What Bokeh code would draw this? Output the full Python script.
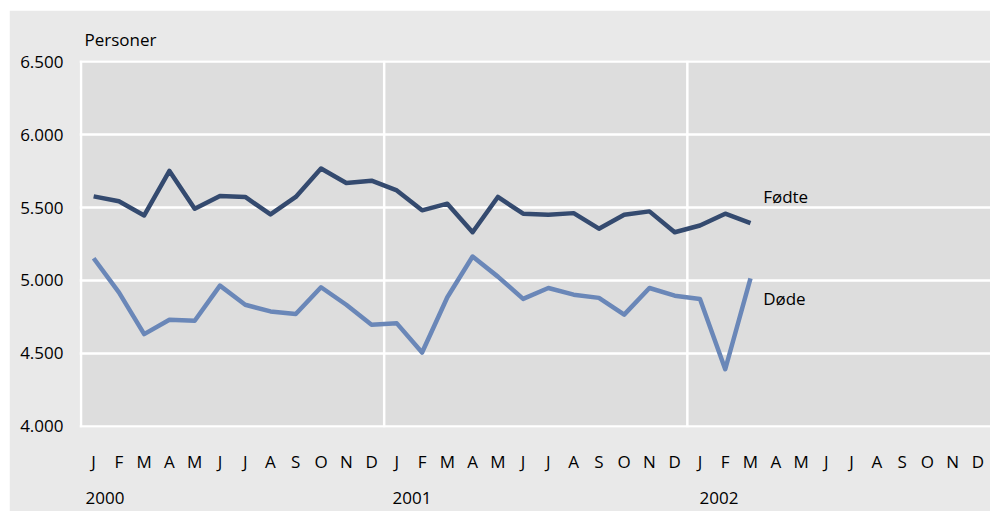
from bokeh.plotting import figure
from bokeh.models import FixedTicker, Label, Range1d, Span, LinearAxis
from bokeh.embed import file_html
from bokeh.resources import INLINE

# ---- data ----
months = ["J", "F", "M", "A", "M", "J", "J", "A", "S", "O", "N", "D"]
years = ["2000", "2001", "2002"]
fodte = [5577, 5543, 5446, 5752, 5492, 5580, 5573, 5453, 5573, 5768, 5669, 5685,
         5618, 5481, 5527, 5331, 5573, 5458, 5451, 5462, 5355, 5451, 5474, 5331,
         5377, 5458, 5393]
dode = [5152, 4918, 4631, 4730, 4723, 4964, 4833, 4787, 4769, 4953, 4833, 4696,
        4705, 4505, 4884, 5164, 5026, 4873, 4948, 4902, 4880, 4765, 4948, 4895,
        4873, 4390, 5014]
y_ticks = [4000, 4500, 5000, 5500, 6000, 6500]
y_tick_labels = ["4.000", "4.500", "5.000", "5.500", "6.000", "6.500"]
series_names = ["Fødte", "Døde"]
unit_label = "Personer"

FONT = "Open Sans"
FS = "17px"
TXT = "#000000"
DARK = "#344a6f"
LIGHT = "#6a87b8"
OUTER = "#e9e9e9"
INNER = "#dddddd"

n_months = len(months) * len(years)
x = [i + 0.5 for i in range(len(fodte))]

p = figure(width=981, height=501, output_backend="svg", toolbar_location=None,
           x_range=Range1d(-0.06, n_months), y_range=Range1d(3990, 6510),
           min_border_left=70, min_border_right=0, min_border_top=50,
           min_border_bottom=84)
p.margin = (10, 0, 0, 9)
p.background_fill_color = INNER
p.border_fill_color = OUTER
p.outline_line_color = None

# title used as unit label
p.title.text = unit_label
p.title.align = "left"
p.title.offset = 5
p.title.standoff = 19
p.title.text_font = FONT
p.title.text_font_size = FS
p.title.text_font_style = "normal"
p.title.text_color = TXT

# grids
p.ygrid.ticker = FixedTicker(ticks=y_ticks)
p.ygrid.grid_line_color = "white"
p.ygrid.grid_line_width = 2.5
p.xgrid.visible = False
for k in range(len(years)):
    p.add_layout(Span(location=12 * k, dimension="height", line_color="white",
                      line_width=2.5, level="underlay"))

# y axis
p.yaxis.ticker = FixedTicker(ticks=y_ticks)
p.yaxis.major_label_overrides = {t: l for t, l in zip(y_ticks, y_tick_labels)}
p.yaxis.axis_line_color = None
p.yaxis.major_tick_line_color = None
p.yaxis.minor_tick_line_color = None
p.yaxis.major_label_standoff = 10
p.yaxis.major_label_text_font = FONT
p.yaxis.major_label_text_font_size = FS
p.yaxis.major_label_text_color = TXT

# x axis (months)
month_ticks = [i + 0.5 for i in range(n_months)]
p.xaxis.ticker = FixedTicker(ticks=month_ticks)
p.xaxis.major_label_overrides = {t: months[i % 12] for i, t in enumerate(month_ticks)}
p.xaxis.axis_line_color = None
p.xaxis.major_tick_line_color = None
p.xaxis.minor_tick_line_color = None
p.xaxis.major_label_standoff = 16
p.xaxis.major_label_text_font = FONT
p.xaxis.major_label_text_font_size = FS
p.xaxis.major_label_text_color = TXT

# second x axis (years)
year_ticks = [12.15 * k + 0.95 for k in range(len(years))]
yax = LinearAxis(ticker=FixedTicker(ticks=year_ticks),
                 major_label_overrides={t: y for t, y in zip(year_ticks, years)},
                 axis_line_color=None, major_tick_line_color=None,
                 minor_tick_line_color=None, major_label_standoff=10,
                 major_label_text_font=FONT, major_label_text_font_size=FS,
                 major_label_text_color=TXT)
p.add_layout(yax, "below")

# lines
p.line(x, fodte, line_color=DARK, line_width=4.5, line_join="round")
p.line(x, dode, line_color=LIGHT, line_width=4.5, line_join="round")

# series labels
last = len(fodte) - 1 + 0.5
p.add_layout(Label(x=last + 0.5, y=5576, text=series_names[0], text_font=FONT,
                   text_font_size=FS, text_baseline="middle", text_color=TXT))
p.add_layout(Label(x=last + 0.5, y=4876, text=series_names[1], text_font=FONT,
                   text_font_size=FS, text_baseline="middle", text_color=TXT))

open("out.html", "w").write(file_html(p, INLINE))
